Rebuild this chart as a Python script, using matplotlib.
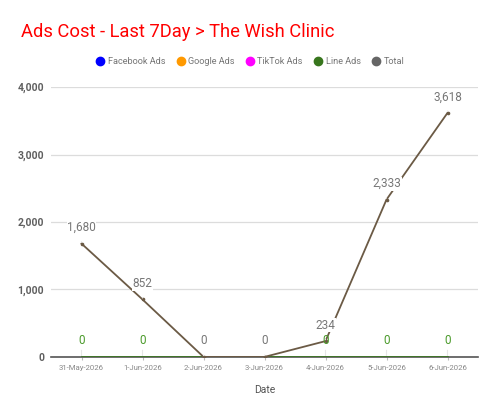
import numpy as np
import matplotlib.pyplot as plt
from matplotlib.lines import Line2D

plt.rcParams['font.family'] = ['Roboto', 'DejaVu Sans']

# ========== data ==========
dates = ["31-May-2026", "1-Jun-2026", "2-Jun-2026", "3-Jun-2026",
         "4-Jun-2026", "5-Jun-2026", "6-Jun-2026"]
facebook_ads = [None] * 7
google_ads = [None] * 7
tiktok_ads = [None] * 7
line_ads = [0, 0, 0, 0, 0, 0, 0]
total = [1680, 852, 0, 0, 234, 2333, 3618]

series_names = ["Facebook Ads", "Google Ads", "TikTok Ads", "Line Ads", "Total"]
series_colors = ["#0000ff", "#ff9900", "#ff00ff", "#38761d", "#666666"]
total_line_color = "#6b5a45"

x = np.arange(len(dates))

fig = plt.figure(figsize=(5, 4.15), dpi=100)
ax = fig.add_axes([0.102, 0.14, 0.854, 0.65])

# ========== lines ==========
ax.plot(x, line_ads, color="#38761d", lw=1.2, zorder=3)
ax.plot(x, total, color=total_line_color, lw=1.3, marker="o", markersize=1.6,
        zorder=4)

# ========== labels ==========
for i in range(len(x)):
    if total[i] == 0:
        continue
    ax.annotate(f"{line_ads[i]:,}", (x[i], line_ads[i]), xytext=(0, 11.5),
                textcoords="offset points", ha="center", va="center",
                fontsize=8.5, color="#4a9a2a", zorder=5,
                arrowprops=dict(arrowstyle="-", color="#e6e6e6", lw=0.8,
                                shrinkA=5, shrinkB=1))
for i in range(len(x)):
    ax.annotate(f"{total[i]:,}", (x[i], total[i]), xytext=(0, 11.5),
                textcoords="offset points", ha="center", va="center",
                fontsize=8.5, color="#777777", zorder=6,
                bbox=dict(boxstyle="square,pad=0.05", fc="white", ec="none"),
                arrowprops=dict(arrowstyle="-", color="#e6e6e6", lw=0.8,
                                shrinkA=5, shrinkB=1))

# ========== axes ==========
ax.set_xlim(-0.5, len(dates) - 0.5)
ax.set_ylim(0, 4000)
ax.set_yticks([0, 1000, 2000, 3000, 4000])
ax.set_yticklabels([f"{v:,}" for v in [0, 1000, 2000, 3000, 4000]],
                   fontsize=7.5, color="#5f5f5f", fontweight="bold")
ax.set_xticks(x)
ax.set_xticklabels(dates, fontsize=5.6, color="#888888")
ax.tick_params(axis="y", length=0, pad=5)
ax.tick_params(axis="x", length=2, color="#bbbbbb", pad=4)
ax.grid(axis="y", color="#dcdcdc", lw=0.9)
ax.set_axisbelow(True)
for s in ["top", "right", "left"]:
    ax.spines[s].set_visible(False)
ax.spines["bottom"].set_color("#555555")
ax.spines["bottom"].set_linewidth(1.2)
ax.set_xlabel("Date", fontsize=7.5, color="#555555", labelpad=10)

# ========== title & legend ==========
fig.text(0.042, 0.922, "Ads Cost - Last 7Day > The Wish Clinic",
         fontsize=13.2, color="#ff0000", va="center", ha="left")
handles = [Line2D([], [], ls="none", marker="o", markersize=6,
                  color=c) for c in series_colors]
fig.legend(handles, series_names, loc="center", bbox_to_anchor=(0.5, 0.851),
           ncol=5, frameon=False, fontsize=6.6, labelcolor="#757575",
           handletextpad=0.3, columnspacing=1.2, handlelength=1.0)

fig.savefig("out.png", dpi=100)
